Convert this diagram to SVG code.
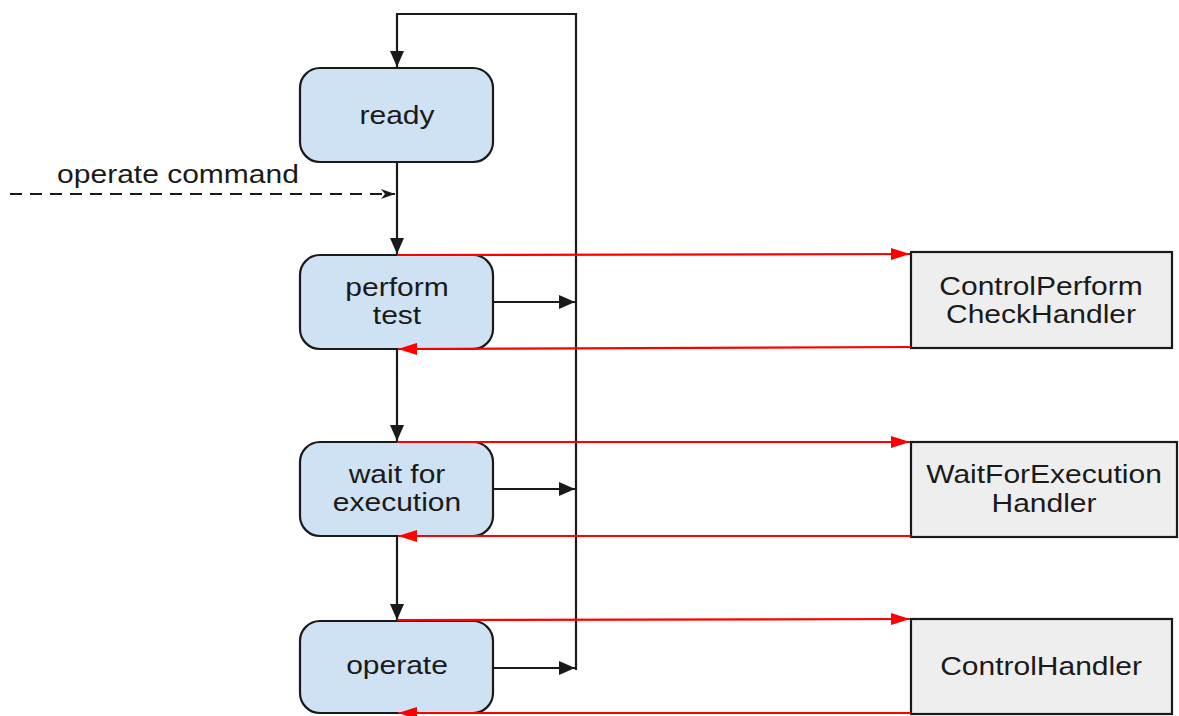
<svg xmlns="http://www.w3.org/2000/svg" width="1179" height="716" viewBox="0 0 1179 716">
  <defs>
    <style>
      .state { fill: #cfe2f3; stroke: #1a1a1a; stroke-width: 2.2; }
      .handler { fill: #eeeeee; stroke: #1a1a1a; stroke-width: 2.2; }
      .lbl { font-family: "Liberation Sans", Arial, sans-serif; font-size: 25px; fill: #1a1a1a; text-anchor: middle; }
      .flow { fill: none; stroke: #1a1a1a; stroke-width: 2.2; }
      .call { fill: none; stroke: #ff0000; stroke-width: 2.2; }
      .cmd { fill: none; stroke: #1a1a1a; stroke-width: 2; stroke-dasharray: 12 8; }
    </style>
    <marker id="ah-black" markerUnits="userSpaceOnUse" markerWidth="16" markerHeight="14" refX="16" refY="7" orient="auto">
      <path d="M0,0 L16,7 L0,14 Z" fill="#1a1a1a"/>
    </marker>
    <marker id="ah-red" markerUnits="userSpaceOnUse" markerWidth="19" markerHeight="12" refX="19" refY="6" orient="auto">
      <path d="M0,0 L19,6 L0,12 Z" fill="#ff0000"/>
    </marker>
    <marker id="ah-open" markerUnits="userSpaceOnUse" markerWidth="14" markerHeight="10" refX="14" refY="5" orient="auto">
      <path d="M0,0 L14,5 L0,10 L4,5 Z" fill="#1a1a1a"/>
    </marker>
  </defs>

  <text class="lbl" transform="translate(178,183) scale(1.2,1)">operate command</text>

  <g id="ready">
    <rect class="state" x="300" y="68" width="193" height="94" rx="20"/>
    <text class="lbl" transform="translate(397,124) scale(1.2,1)">ready</text>
  </g>

  <g id="perform-test">
    <rect class="state" x="300" y="255" width="193" height="94" rx="20"/>
    <text class="lbl" transform="translate(397,296) scale(1.2,1)">perform</text>
    <text class="lbl" transform="translate(397,324) scale(1.2,1)">test</text>
  </g>

  <g id="wait-for-execution">
    <rect class="state" x="300" y="442" width="193" height="94" rx="20"/>
    <text class="lbl" transform="translate(397,483) scale(1.2,1)">wait for</text>
    <text class="lbl" transform="translate(397,511) scale(1.2,1)">execution</text>
  </g>

  <g id="operate">
    <rect class="state" x="300" y="621" width="193" height="92" rx="20"/>
    <text class="lbl" transform="translate(397,674) scale(1.2,1)">operate</text>
  </g>

  <g id="control-perform-check-handler">
    <rect class="handler" x="911" y="252" width="261" height="96"/>
    <text class="lbl" transform="translate(1041,295) scale(1.2,1)">ControlPerform</text>
    <text class="lbl" transform="translate(1041,323) scale(1.2,1)">CheckHandler</text>
  </g>

  <g id="wait-for-execution-handler">
    <rect class="handler" x="911" y="442" width="266" height="95"/>
    <text class="lbl" transform="translate(1044,483) scale(1.2,1)">WaitForExecution</text>
    <text class="lbl" transform="translate(1044,512) scale(1.2,1)">Handler</text>
  </g>

  <g id="control-handler">
    <rect class="handler" x="911" y="619" width="261" height="95"/>
    <text class="lbl" transform="translate(1041,675) scale(1.2,1)">ControlHandler</text>
  </g>

  <!-- connectors, drawn over the box outlines -->
  <g id="connectors">
    <!-- loop back to ready -->
    <polyline class="flow" points="576,670 576,14 397,14 397,67" marker-end="url(#ah-black)"/>
    <!-- main sequence -->
    <line class="flow" x1="397" y1="162" x2="397" y2="254" marker-end="url(#ah-black)"/>
    <line class="flow" x1="397" y1="349" x2="397" y2="441" marker-end="url(#ah-black)"/>
    <line class="flow" x1="397" y1="536" x2="397" y2="620" marker-end="url(#ah-black)"/>
    <!-- exits to loop -->
    <line class="flow" x1="493" y1="302" x2="575" y2="302" marker-end="url(#ah-black)"/>
    <line class="flow" x1="493" y1="489" x2="575" y2="489" marker-end="url(#ah-black)"/>
    <line class="flow" x1="493" y1="668" x2="575" y2="668" marker-end="url(#ah-black)"/>
    <!-- operate command input -->
    <line class="cmd" x1="10" y1="194" x2="395" y2="194" marker-end="url(#ah-open)"/>
    <!-- handler calls -->
    <line class="call" x1="397" y1="255" x2="910" y2="254" marker-end="url(#ah-red)"/>
    <line class="call" x1="911" y1="347" x2="398" y2="349" marker-end="url(#ah-red)"/>
    <line class="call" x1="397" y1="442" x2="910" y2="442" marker-end="url(#ah-red)"/>
    <line class="call" x1="911" y1="536" x2="398" y2="536" marker-end="url(#ah-red)"/>
    <line class="call" x1="397" y1="620" x2="910" y2="619" marker-end="url(#ah-red)"/>
    <line class="call" x1="911" y1="713" x2="398" y2="713" marker-end="url(#ah-red)"/>
  </g>
</svg>
